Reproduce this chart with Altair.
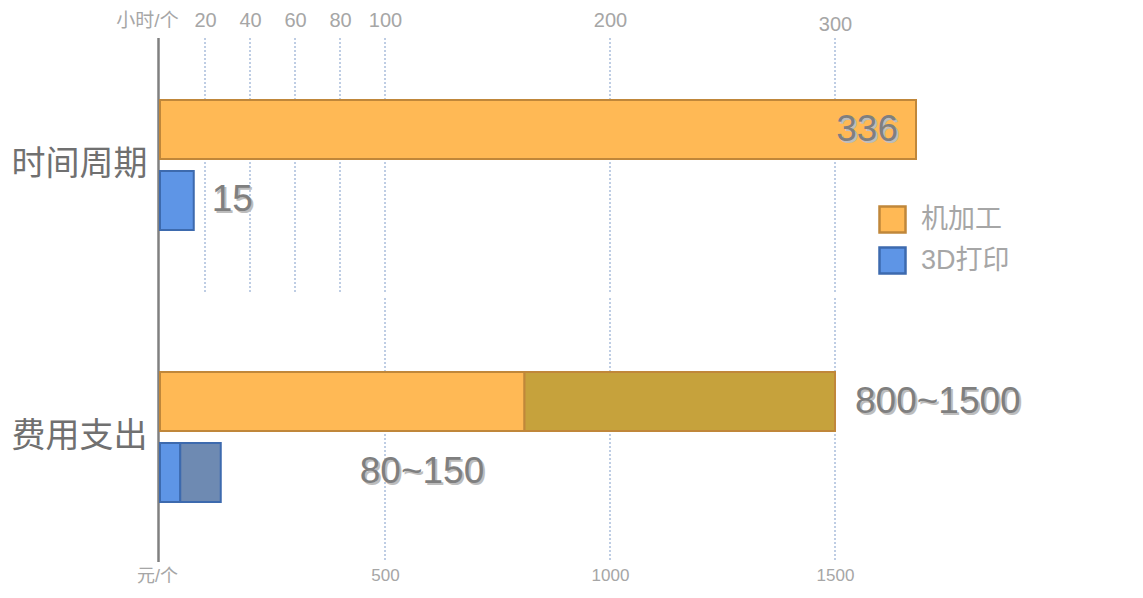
import altair as alt
import pandas as pd

# ---------------- data ----------------
cats = ["时间周期", "费用支出"]
types = ["机加工", "3D打印"]
range_suffix = " 区间"

# 时间周期 (小时/个)
time_values = [336, 15]
time_labels = ["336", "15"]

# 费用支出 (元/个): solid part up to low, hatched part from low to high
cost_low = [810, 45]
cost_high = [1500, 135]
cost_labels = ["800~1500", "80~150"]

hour_ticks = [20, 40, 60, 80, 100, 200, 300]
yuan_ticks = [500, 1000, 1500]
hour_max = 420
yuan_max = 2100

# ---------------- styles ----------------
LAT = "Liberation Sans, Arial, Noto Sans CJK SC"
NARROW = "Liberation Sans Narrow, Arial Narrow, Liberation Sans, Noto Sans CJK SC"
CJK = "Noto Sans CJK SC, Liberation Sans"

keys = types + [t + range_suffix for t in types]
fill_range = ["#FFB955", "#5E95E6", "#C6A23C", "#6E8AB2"]
stroke_range = ["#C0873A", "#3D6AAE", "#C0873A", "#3D6AAE"]

legend = alt.Legend(
    values=types, orient="none", legendX=718, legendY=176, title=None,
    symbolType="square", symbolSize=676, symbolStrokeWidth=2.5,
    labelFontSize=27, labelColor="#a6a6a6", labelFont=LAT, labelOffset=14,
    rowPadding=4,
)
fill_enc = alt.Fill("key:N", scale=alt.Scale(domain=keys, range=fill_range), legend=legend)
stroke_enc = alt.Stroke("key:N", scale=alt.Scale(domain=keys, range=stroke_range), legend=legend)

y_enc = alt.Y(
    "cat:N",
    scale=alt.Scale(domain=cats, paddingInner=0, paddingOuter=0),
    axis=alt.Axis(domain=False, ticks=False, grid=False, labelFontSize=34,
                  labelColor="#707070", labelPadding=13, labelFont=CJK),
    title=None,
)
yoff_enc = alt.YOffset("type:N", scale=alt.Scale(domain=types, paddingInner=0.169, paddingOuter=1))

top_axis = alt.Axis(
    orient="top", values=hour_ticks, domain=False, ticks=False, grid=False,
    labelColor="#a6a6a6", labelFontSize=20, labelFont=LAT, labelPadding=-1,
    labelFlush=False, labelOverlap=False, format="d",
    labelBaseline={"condition": {"test": "datum.value == 300", "value": "alphabetic"}, "value": "bottom"},
    titleX=-13, titleY=-9, titleAlign="center", titleBaseline="middle",
    titleFontSize=19, titleFontWeight="normal", titleColor="#a6a6a6", titleFont=LAT,
)
bottom_axis = alt.Axis(
    orient="bottom", values=yuan_ticks, domain=False, ticks=False, grid=False,
    labelColor="#a6a6a6", labelFontSize=17, labelFont=NARROW, labelPadding=-6,
    labelFlush=False, labelOverlap=False, format="d",
    titleX=-3, titleY=3, titleAlign="center", titleBaseline="middle",
    titleFontSize=18, titleFontWeight="normal", titleColor="#a6a6a6", titleFont=NARROW,
)


def hx(field):
    return alt.X(f"{field}:Q", scale=alt.Scale(domain=[0, hour_max], nice=False, zero=False),
                 axis=top_axis, title="小时/个")


def yx(field):
    return alt.X(f"{field}:Q", scale=alt.Scale(domain=[0, yuan_max], nice=False, zero=False),
                 axis=bottom_axis, title="元/个")


# ---------------- tables ----------------
time_df = pd.DataFrame({
    "cat": [cats[0]] * len(types), "type": types, "key": types,
    "start": [0] * len(types), "end": time_values, "text": time_labels,
})
cost_rows = []
for t, lo, hi, lab in zip(types, cost_low, cost_high, cost_labels):
    cost_rows.append({"cat": cats[1], "type": t, "key": t, "start": 0, "end": lo, "text": lab})
    cost_rows.append({"cat": cats[1], "type": t, "key": t + range_suffix, "start": lo, "end": hi, "text": lab})
cost_df = pd.DataFrame(cost_rows)
cost_label_df = pd.DataFrame({"cat": [cats[1]] * len(types), "type": types, "end": cost_high, "text": cost_labels})

hour_tick_df = pd.DataFrame({"tick": hour_ticks})
yuan_tick_df = pd.DataFrame({"tick": yuan_ticks})


def labels(df, xf, align, dx):
    shadow = alt.Chart(df).mark_text(
        align=align, baseline="middle", dx=dx + 2, dy=2, fontSize=37, font=LAT,
        color="#bdbdbd",
    ).encode(x=xf("end"), y=y_enc, yOffset=yoff_enc, text="text:N")
    main = alt.Chart(df).mark_text(
        align=align, baseline="middle", dx=dx, fontSize=37, font=LAT, color="#7f7f7f",
    ).encode(x=xf("end"), y=y_enc, yOffset=yoff_enc, text="text:N")
    return shadow + main


# ---------------- hours layer ----------------
top_grid = alt.Chart(hour_tick_df).mark_rule(strokeDash=[2, 2], strokeWidth=1.5, color="#A9BDDB").encode(
    x=hx("tick"), y=alt.value(9), y2=alt.value(264)
)
time_bars = alt.Chart(time_df).mark_bar(strokeWidth=2).encode(
    x=hx("start"), x2="end:Q", y=y_enc, yOffset=yoff_enc, fill=fill_enc, stroke=stroke_enc
)
time_lab_big = labels(time_df[time_df["type"] == types[0]], hx, "right", -18)
time_lab_small = labels(time_df[time_df["type"] == types[1]], hx, "left", 18)
hours_layer = alt.layer(top_grid, time_bars, time_lab_big, time_lab_small)

# ---------------- yuan layer ----------------
bottom_grid = alt.Chart(yuan_tick_df).mark_rule(strokeDash=[2, 2], strokeWidth=1.5, color="#A9BDDB").encode(
    x=yx("tick"), y=alt.value(269), y2=alt.value(531)
)
cost_bars = alt.Chart(cost_df).mark_bar(strokeWidth=2).encode(
    x=yx("start"), x2="end:Q", y=y_enc, yOffset=yoff_enc, fill=fill_enc, stroke=stroke_enc
)
cost_lab_big = labels(cost_label_df[cost_label_df["type"] == types[0]], yx, "left", 20)
cost_lab_small = labels(cost_label_df[cost_label_df["type"] == types[1]], yx, "left", 139)
yuan_layer = alt.layer(bottom_grid, cost_bars, cost_lab_big, cost_lab_small)

# ---------------- left axis line ----------------
axis_line = alt.Chart(pd.DataFrame({"a": [0]})).mark_rule(color="#808080", strokeWidth=2.5).encode(
    x=alt.value(-1.5), y=alt.value(9), y2=alt.value(533)
)

chart = alt.layer(axis_line, hours_layer, yuan_layer).resolve_scale(
    x="independent"
).properties(
    width=945, height=544,
    autosize=alt.AutoSizeParams(type="none"),
    padding={"left": 152, "top": 21, "right": 25, "bottom": 14},
).configure(font=LAT, background="white").configure_view(stroke=None)

chart.save("out.html", embed_options={"renderer": "svg", "actions": False})
